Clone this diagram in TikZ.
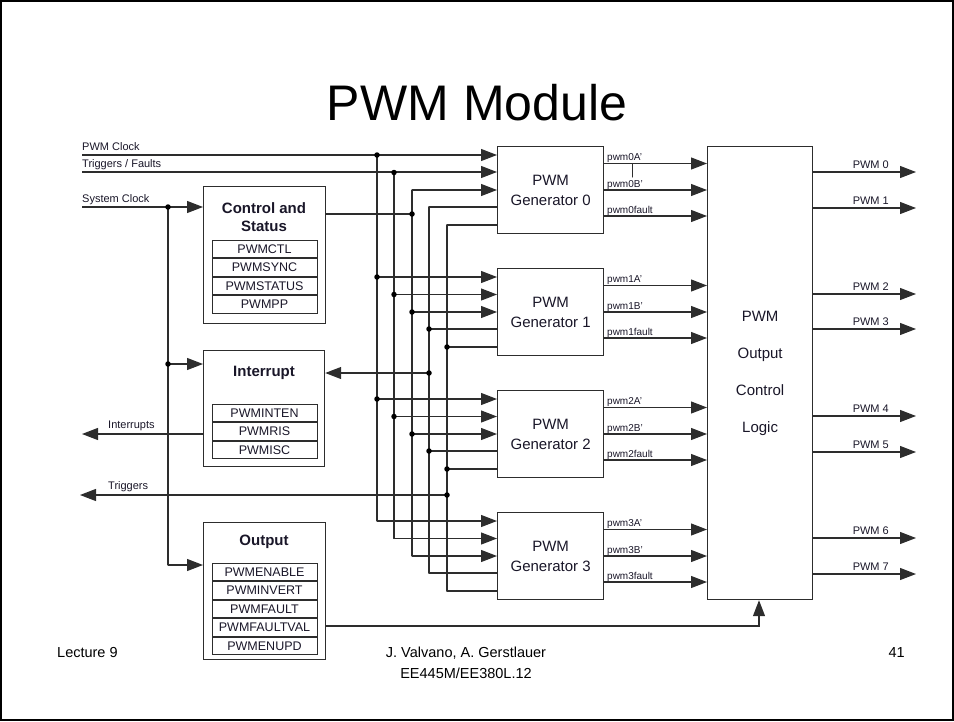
\documentclass[tikz,border=0pt]{standalone}
\usepackage{fontspec}
\setmainfont{Liberation Sans}
\usetikzlibrary{arrows.meta,calc}
\definecolor{ln}{RGB}{45,45,45}
\definecolor{tx}{RGB}{25,22,40}
\begin{document}
\begin{tikzpicture}[x=1pt,y=-1pt,
  line/.style={line width=1.2pt, draw=ln, line cap=round},
  arr/.style={line width=1.2pt, draw=ln, -{Triangle[length=16pt,width=12pt]}},
  box/.style={draw=ln, line width=1.2pt, anchor=north west, inner sep=0pt},
  reg/.style={draw=ln, line width=1pt, minimum width=105pt, minimum height=17.4pt, inner sep=0pt, anchor=north, text=tx, font=\fontsize{12.5}{13}\selectfont},
  dot/.style={circle, fill=black, inner sep=0pt, minimum size=5.5pt},
  sig/.style={inner sep=0pt, text=tx, font=\fontsize{11}{12}\selectfont},
  pl/.style={inner sep=0pt, anchor=base west, text=tx, font=\fontsize{10}{11}\selectfont},
  ttl/.style={inner sep=0pt, text=tx, font=\fontsize{15}{18}\selectfont\bfseries, align=center},
  foot/.style={inner sep=0pt, font=\fontsize{14.5}{21}\selectfont}
]
\useasboundingbox (0,0) rectangle (954,721);
\draw[line width=1.6pt] (0.8,0.8) rectangle (953.2,720.2);

\node[font=\fontsize{50}{51}\selectfont, inner sep=0pt] (title) at (477,103) {PWM Module};

% ---- generators
\foreach \i/\t in {0/146,1/268,2/390,3/512} {
  \node[box, minimum width=106pt, minimum height=87pt, align=center, text=tx,
        font=\fontsize{15}{20}\selectfont] (g\i) at (497,\t) {PWM\\Generator \i};
  \foreach \k/\bx/\o in {1/377/9, 2/394/26.5, 3/412/44, 4/429/61, 5/447/79} {
    \coordinate (j\i\k) at (\bx,\t+\o);
  }
  \foreach \n/\o in {A'/17.5, B'/44, fault/70} {
    \coordinate (o\i\n) at (603,\t+\o);
  }
}
% ---- output control logic
\node[box, minimum width=105pt, minimum height=453pt, align=center, text=tx,
      font=\fontsize{15}{37}\selectfont] (L) at (707,146) {PWM\\Output\\Control\\Logic};

% ---- control and status
\node[box, minimum width=122pt, minimum height=137pt] (cs) at (203,186) {};
\node[ttl] (cst) at (264,217) {Control and\\Status};
\node[reg] (r1) at (264.5,240) {PWMCTL};
\node[reg] (r2) at (r1.south) {PWMSYNC};
\node[reg] (r3) at (r2.south) {PWMSTATUS};
\node[reg] (r4) at (r3.south) {PWMPP};

% ---- interrupt
\node[box, minimum width=121pt, minimum height=116pt] (ir) at (203,350) {};
\node[ttl] (irt) at (264,373) {Interrupt};
\node[reg] (i1) at (264.5,404) {PWMINTEN};
\node[reg] (i2) at (i1.south) {PWMRIS};
\node[reg] (i3) at (i2.south) {PWMISC};

% ---- output
\node[box, minimum width=122pt, minimum height=137pt] (ou) at (203,522) {};
\node[ttl] (out) at (264,542) {Output};
\node[reg] (p1) at (264.5,563) {PWMENABLE};
\node[reg] (p2) at (p1.south) {PWMINVERT};
\node[reg] (p3) at (p2.south) {PWMFAULT};
\node[reg] (p4) at (p3.south) {PWMFAULTVAL};
\node[reg] (p5) at (p4.south) {PWMENUPD};

% ---- left signals
\coordinate (pc) at (82,155);
\coordinate (tf) at (82,172);
\coordinate (sc) at (82,207);
\node[sig, anchor=base west] (lpc) at (82,150) {PWM Clock};
\node[sig, anchor=base west] (ltf) at (82,167) {Triggers / Faults};
\node[sig, anchor=base west] (lsc) at (82,202) {System Clock};
\draw[arr] (pc) -- (pc -| g0.west);
\draw[arr] (tf) -- (tf -| g0.west);
\draw[arr] (sc) -- (sc -| cs.west);
\coordinate (s1) at (168,207);
\coordinate (s2) at (168,364);
\coordinate (s3) at (168,565);
\draw[line] (s1) -- (s3);
\draw[arr] (s3) -- (s3 -| ou.west);
\draw[arr] (s2) -- (s2 -| ir.west);
\node[dot] (d1) at (s1) {};
\node[dot] (d2) at (s2) {};

% ---- buses
\foreach \k in {1,...,5} { \draw[line] (j0\k) -- (j3\k); }
\foreach \i in {0,...,3} {
  \foreach \k in {1,2,3} {
    \ifnum\i=0 \ifnum\k<3 \else \draw[arr] (j\i\k) -- (j\i\k -| g\i.west); \fi
    \else \draw[arr] (j\i\k) -- (j\i\k -| g\i.west); \fi
  }
  \foreach \k in {4,5} { \draw[line] (j\i\k) -- (j\i\k -| g\i.west); }
}
\foreach \k in {1,...,5} {
  \node[dot] at (j1\k) {};
  \node[dot] at (j2\k) {};
}
\node[dot] at (j01) {};
\node[dot] at (j02) {};

% control -> bus 3
\coordinate (c3) at (412,214);
\draw[line] (cs.east |- c3) -- (c3);
\node[dot] at (c3) {};
% interrupt bus 4
\coordinate (c4) at (429,373);
\draw[arr] (c4) -- (c4 -| ir.east);
\node[dot] at (c4) {};
% triggers bus 5
\coordinate (c5) at (447,495);
\coordinate (trg) at (80,495);
\draw[arr] (c5) -- (trg);
\node[dot] at (c5) {};
\node[sig, anchor=base west] (ltr) at (108,489) {Triggers};
% interrupts out
\coordinate (ints) at (82,434);
\draw[arr] (ir.west |- ints) -- (ints);
\node[sig, anchor=base west] (lint) at (108,428) {Interrupts};

% ---- generator outputs
\foreach \i in {0,...,3} {
  \foreach \n in {A',B',fault} {
    \draw[arr] (o\i\n) -- (o\i\n -| L.west);
    \node[pl] at ($(o\i\n)+(4,-3)$) {pwm\i\n};
  }
}
\draw[line, line width=1pt] (632,163.5) -- (632,177);

% ---- output logic outputs
\foreach \n/\y in {0/172,1/208,2/294,3/329,4/416,5/452,6/538,7/574} {
  \coordinate (q\n) at (916,\y);
  \draw[arr] (L.east |- q\n) -- (q\n);
  \node[sig, anchor=base east] (lq\n) at (889,\y-4) {PWM \n};
}

% ---- output -> logic
\coordinate (f1) at (759,626);
\draw[arr] (ou.east |- f1) -- (f1) -- (L.south -| f1);

% ---- footer
\node[foot, anchor=base west] (lec) at (57,657) {Lecture 9};
\node[foot, anchor=base] (auth) at (466,657) {J. Valvano, A. Gerstlauer};
\node[foot, anchor=base] (course) at (466,678) {EE445M/EE380L.12};
\node[foot, anchor=base east] (pg) at (905,657) {41};
\end{tikzpicture}
\end{document}
